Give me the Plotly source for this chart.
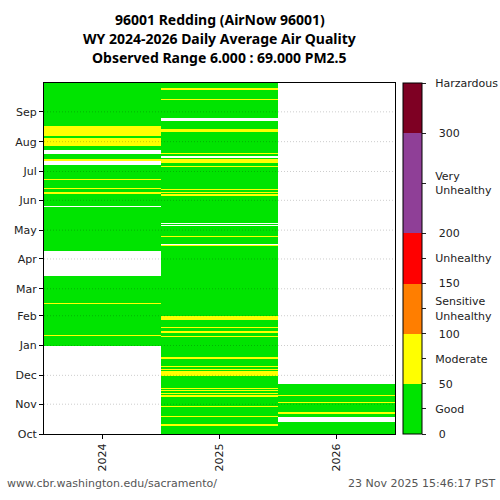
import numpy as np
import plotly.graph_objects as go

# water years shown as columns
wy_labels = ["2024", "2025", "2026"]

# y axis: day of water year where each month starts
month_names = ["Oct", "Nov", "Dec", "Jan", "Feb", "Mar", "Apr", "May", "Jun", "Jul", "Aug", "Sep"]
month_start = [0, 31, 61, 92, 123, 151, 182, 212, 243, 273, 304, 335]
n_days = 365

# runs of days (first, last), day 0 = Oct 1
missing_2024 = [(0, 91), (164, 189), (236, 236), (280, 283), (291, 294)]
moderate_2024 = [(102, 102), (135, 135), (250, 251), (255, 255), (264, 264),
                 (284, 285), (299, 307), (310, 319)]
last_2024 = 364

missing_2025 = [(197, 197), (216, 216), (218, 218), (287, 288), (326, 328)]
moderate_2025 = [(8, 9), (13, 13), (18, 18), (28, 28), (38, 40), (42, 42), (45, 45),
                 (47, 47), (60, 65), (67, 67), (70, 70), (78, 79), (101, 101),
                 (105, 106), (110, 110), (119, 122), (195, 196), (205, 205),
                 (248, 249), (251, 251), (254, 254), (273, 273), (278, 278),
                 (282, 285), (291, 291), (314, 316), (347, 347), (358, 359)]
last_2025 = 364

missing_2026 = [(12, 17)]
moderate_2026 = [(21, 22), (32, 32), (40, 40)]
last_2026 = 51

# AQI category values used for the cells
aqi_good = 25
aqi_moderate = 75

# AQI colour bands
aqi_edges = [0, 50, 100, 150, 200, 300, 350]
aqi_colors = ["#00e400", "#ffff00", "#ff7e00", "#ff0000", "#8f3f97", "#7e0023"]
cb_vals = [0, 25, 50, 75, 100, 125, 150, 175, 200, 250, 300, 350]
cb_labels = ["0", "Good", "50", "Moderate", "100", "Sensitive|Unhealthy", "150",
             "Unhealthy", "200", "Very|Unhealthy", "300", "Harzardous"]

title_lines = ["96001 Redding (AirNow 96001)",
               "WY 2024-2026 Daily Average Air Quality",
               "Observed Range 6.000 : 69.000 PM2.5"]


def build_column(missing, moderate, last):
    col = np.full(n_days, np.nan)
    col[:last + 1] = aqi_good
    for a, b in moderate:
        col[a:b + 1] = aqi_moderate
    for a, b in missing:
        col[a:b + 1] = np.nan
    return col


def pad_label(s):
    # push labels a little further from the bar; numbers sit one space deeper
    pad = "\u00a0\u00a0\u00a0" if s.isdigit() else "\u00a0\u00a0"
    return "<br>".join(pad + part for part in s.split("|"))


z = np.column_stack([
    build_column(missing_2024, moderate_2024, last_2024),
    build_column(missing_2025, moderate_2025, last_2025),
    build_column(missing_2026, moderate_2026, last_2026),
])

zmax = aqi_edges[-1]
colorscale = []
for i, c in enumerate(aqi_colors):
    colorscale.append([aqi_edges[i] / zmax, c])
    colorscale.append([aqi_edges[i + 1] / zmax, c])

days = np.arange(n_days) + 0.5

fig = go.Figure(go.Heatmap(
    x=wy_labels, y=days, z=z,
    zmin=0, zmax=zmax, colorscale=colorscale,
    hoverongaps=False,
    colorbar=dict(
        x=1.0228, xanchor="left", xpad=0, ypad=0,
        y=0.5, len=1.0, lenmode="fraction", thickness=19,
        outlinewidth=1, outlinecolor="black",
        tickmode="array", tickvals=cb_vals, ticktext=[pad_label(s) for s in cb_labels],
        ticks="outside", ticklen=4, tickcolor="#222",
        tickfont=dict(family="DejaVu Sans", size=11, color="#222"),
    ),
))

# dotted month grid drawn over the cells
for m in month_start[1:]:
    fig.add_shape(type="line", xref="paper", x0=0, x1=1, y0=m, y1=m,
                  line=dict(color="rgba(0,0,0,0.2)", width=1, dash="1px,2px"),
                  layer="above")

fig.update_xaxes(
    range=[-0.5, 2.5], showgrid=False, tickangle=-90,
    ticks="outside", ticklen=4, tickcolor="black",
    showline=True, linecolor="black", linewidth=1, mirror=True,
    tickfont=dict(family="DejaVu Sans", size=11, color="#222"),
)
fig.update_yaxes(
    range=[0, n_days], showgrid=False, zeroline=False,
    tickmode="array", tickvals=month_start, ticktext=month_names,
    ticks="outside", ticklen=4, tickcolor="black",
    showline=True, linecolor="black", linewidth=1, mirror=True,
    tickfont=dict(family="DejaVu Sans", size=11, color="#222"),
)

notes = []
for i, line in enumerate(title_lines):
    notes.append(dict(text="<b>" + line + "</b>", xref="paper", yref="paper",
                      x=0.5, y=1.1795 - i * 0.0541, xanchor="center", yanchor="middle",
                      showarrow=False,
                      font=dict(family="Noto Sans", size=14, color="black")))
notes.append(dict(text="www.cbr.washington.edu/sacramento/", xref="paper", yref="paper",
                  x=-0.111, y=-0.142, xanchor="left", yanchor="middle", showarrow=False,
                  font=dict(family="DejaVu Sans", size=11, color="#555")))
notes.append(dict(text="23 Nov 2025 15:46:17 PST", xref="paper", yref="paper",
                  x=1.29, y=-0.142, xanchor="right", yanchor="middle", showarrow=False,
                  font=dict(family="DejaVu Sans", size=11, color="#555")))

fig.update_layout(
    width=500, height=500,
    margin=dict(l=44, r=105, t=83, b=66, autoexpand=False),
    paper_bgcolor="white", plot_bgcolor="white",
    annotations=notes,
)

fig.write_html("out.html", config={"displayModeBar": False},
               post_script="document.body.style.margin='0';")
